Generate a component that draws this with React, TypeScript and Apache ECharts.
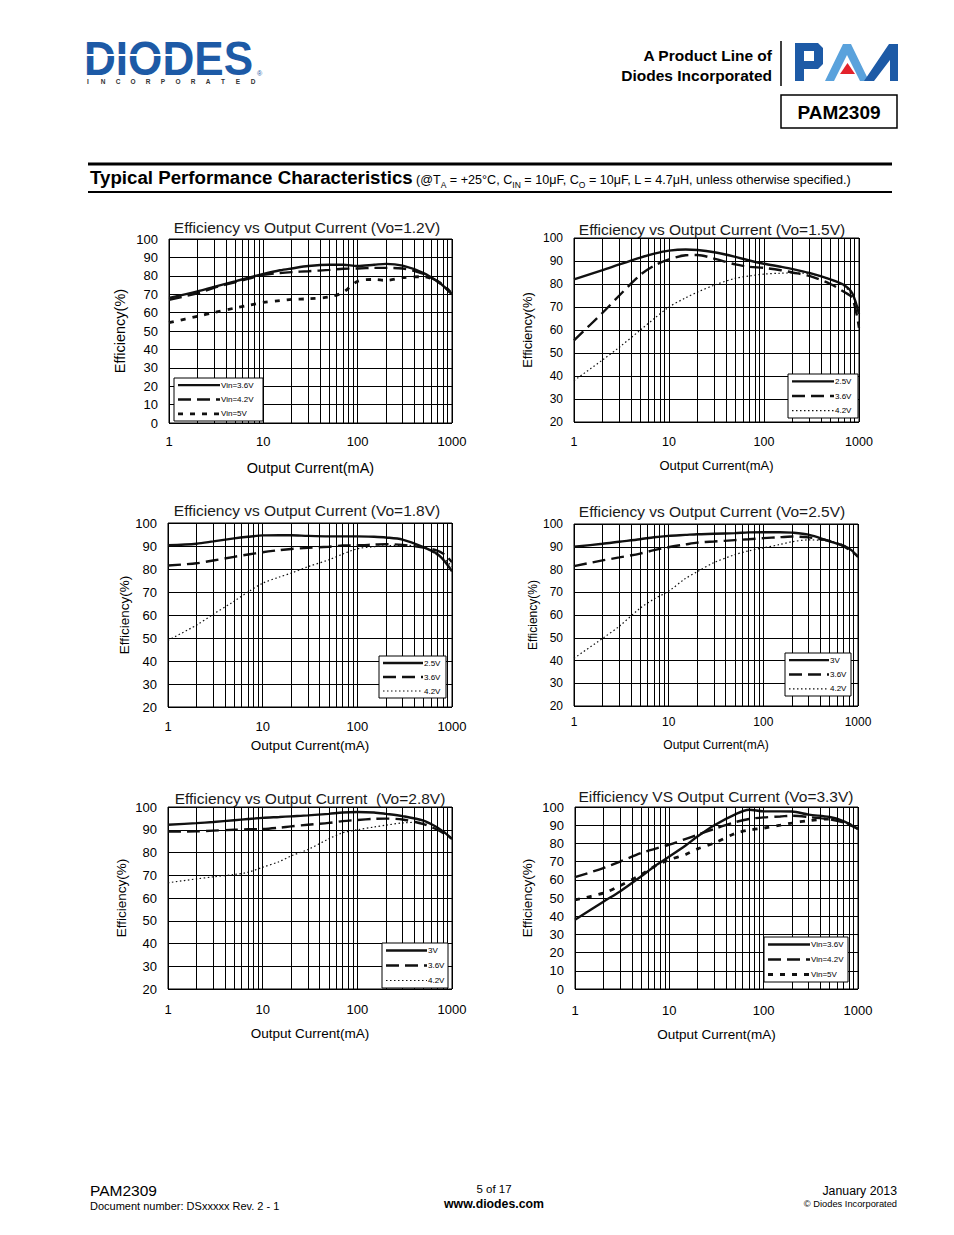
import React, { useEffect, useRef } from "react";
import * as echarts from "echarts";

// ---------- Data ----------
const CURRENT_MA = [1, 2, 3, 5, 7, 10, 15, 20, 30, 50, 70, 100, 150, 200, 300, 500, 700, 850, 1000];
const X_TICKS = [1, 10, 100, 1000];

// Vo = 1.2V
const VO12_VIN36 = [68, 71.5, 74, 77, 79, 81, 83, 84, 85.3, 86, 86, 85.3, 86, 86.5, 85.5, 81.5, 77, 73.5, 70];
const VO12_VIN42 = [67, 70.5, 73.5, 76.5, 78.5, 80.5, 81.5, 82, 82.5, 83.2, 83.8, 84, 84.3, 84.3, 84, 81, 77, 73.5, 70];
const VO12_VIN50 = [54.5, 58, 60, 62.5, 64, 65.5, 66.5, 67.2, 67.5, 68.5, 71, 77, 78, 77.5, 79, 79.5, 77, 74, 70];
// Vo = 1.5V
const VO15_VIN25 = [82, 86, 88.5, 91.5, 93.2, 94.5, 95, 94.8, 93.8, 91.8, 90.2, 88.8, 87.5, 86.5, 84.8, 82, 79.5, 76, 67];
const VO15_VIN36 = [55.5, 67.5, 75, 84, 88, 90.7, 92.5, 92.6, 91, 88.5, 87.5, 87, 86, 85, 83.5, 80, 76.5, 74, 61];
const VO15_VIN42 = [38, 47, 52.5, 60, 65, 70, 74, 76.5, 79.5, 82.5, 83.5, 84.3, 84.7, 84.8, 84.5, 82, 79, 75, 69];
// Vo = 1.8V
const VO18_VIN25 = [90.3, 91, 92, 93.3, 94, 94.6, 94.7, 94.7, 94.4, 94.2, 94.2, 94.2, 94, 93.7, 92.8, 89.5, 86.5, 83, 79];
const VO18_VIN36 = [81.5, 82.5, 83.7, 85.3, 86.3, 87.3, 88.2, 88.7, 89.2, 89.7, 90.2, 90.3, 90.6, 90.8, 90.5, 89.3, 88, 86, 83];
const VO18_VIN42 = [49, 55.6, 60.3, 66, 70, 73.8, 76.5, 78.2, 81, 84, 86.5, 88.8, 89.7, 90.1, 90.3, 89.5, 86, 84, 81];
// Vo = 2.5V
const VO25_VIN30 = [90, 91.3, 92.2, 93.3, 94.2, 94.8, 95.2, 95.5, 95.7, 96, 96.3, 96.4, 96.4, 96.2, 95.3, 92.4, 90.5, 88.5, 85.5];
const VO25_VIN36 = [81.5, 84, 85.3, 87, 88.5, 89.8, 91, 91.8, 92.3, 92.9, 93.3, 93.8, 94.2, 94.5, 94.1, 92.6, 90.3, 88, 85.7];
const VO25_VIN42 = [41, 49.7, 55, 63, 67, 70.5, 76, 79, 83, 86.5, 88.2, 89.5, 91, 92.2, 93, 92.5, 90.8, 88.5, 85.5];
// Vo = 2.8V
const VO28_VIN30 = [92.2, 92.9, 93.4, 94.2, 94.7, 95.2, 95.6, 95.9, 96.3, 97, 97.6, 97.8, 97.6, 97, 96, 94, 91, 88.5, 86];
const VO28_VIN36 = [89.2, 89.3, 89.6, 90, 90.2, 90.3, 90.9, 91.5, 92.2, 93, 93.8, 94.3, 94.8, 94.9, 94.5, 92.5, 90, 88, 86];
const VO28_VIN42 = [66.7, 68.4, 69.3, 70.3, 71.3, 73.5, 76, 78.5, 81.3, 86, 88.7, 90, 91.2, 92, 93, 93.3, 91, 88.5, 86];
// Vo = 3.3V
const VO33_VIN36 = [38, 48, 53.6, 61.8, 67.5, 72.8, 79, 83.9, 90, 96, 98.5, 97.6, 97.6, 97.5, 95.8, 94.5, 92.3, 90, 88];
const VO33_VIN42 = [61.5, 66.4, 70, 74.7, 77, 79.3, 82.5, 84.8, 88, 91.7, 93.4, 94.3, 94.8, 95.2, 94.5, 93.2, 91.5, 89.8, 88];
const VO33_VIN50 = [49, 52.7, 56.7, 62.8, 67.5, 71, 74, 77, 80.2, 85.5, 87.3, 88.4, 90, 91.2, 92.5, 93.4, 92.1, 90, 88];

// ---------- Styles / layout ----------
const FONT = '"Liberation Sans", Arial, Helvetica, sans-serif';
const INK = "#111";
const MINOR_X = [2, 3, 4, 5, 6, 7, 8, 9, 20, 30, 40, 50, 60, 70, 80, 90, 200, 300, 400, 500, 600, 700, 800, 900];

const LINE_STYLES: Record<string, { type: any; width: number }> = {
  solid: { type: "solid", width: 2.4 },
  long: { type: [13, 6], width: 2.4 },
  short: { type: [5, 7], width: 2.8 },
  dot: { type: [1.5, 2.5], width: 1.2 },
};

type Panel = {
  title: string; tx: number; ty: number; tSize: number;
  grid: { left: number; top: number; width: number; height: number };
  yMin: number; ySize: number; xSize: number; nSize: number;
  yGap: number; xGap: number; xMargin: number; yMargin: number;
  series: { name: string; data: number[]; style: string }[];
  legend: { x: number; y: number; w: number; h: number; len: number; fs: number };
};

const PANELS: Panel[] = [
  {
    title: "Efficiency vs Output Current (Vo=1.2V)", tx: 307, ty: 227, tSize: 15.5,
    grid: { left: 169, top: 239, width: 283, height: 184 },
    yMin: 0, ySize: 13, xSize: 13, nSize: 14.5, yGap: 42, xGap: 37, xMargin: 12, yMargin: 11,
    series: [
      { name: "Vin=3.6V", data: VO12_VIN36, style: "solid" },
      { name: "Vin=4.2V", data: VO12_VIN42, style: "long" },
      { name: "Vin=5V", data: VO12_VIN50, style: "short" },
    ],
    legend: { x: 174, y: 378, w: 89, h: 43, len: 42, fs: 8 },
  },
  {
    title: "Efficiency vs Output Current (Vo=1.5V)", tx: 712, ty: 229, tSize: 15.5,
    grid: { left: 574, top: 238, width: 285, height: 184 },
    yMin: 20, ySize: 12, xSize: 12.5, nSize: 13, yGap: 40, xGap: 37, xMargin: 13, yMargin: 11,
    series: [
      { name: "2.5V", data: VO15_VIN25, style: "solid" },
      { name: "3.6V", data: VO15_VIN36, style: "long" },
      { name: "4.2V", data: VO15_VIN42, style: "dot" },
    ],
    legend: { x: 788, y: 374, w: 70, h: 44, len: 42, fs: 8 },
  },
  {
    title: "Efficiency vs Output Current (Vo=1.8V)", tx: 307, ty: 510, tSize: 15.5,
    grid: { left: 168, top: 523, width: 284, height: 184 },
    yMin: 20, ySize: 13, xSize: 13, nSize: 13.5, yGap: 36, xGap: 31, xMargin: 12.5, yMargin: 11,
    series: [
      { name: "2.5V", data: VO18_VIN25, style: "solid" },
      { name: "3.6V", data: VO18_VIN36, style: "long" },
      { name: "4.2V", data: VO18_VIN42, style: "dot" },
    ],
    legend: { x: 379, y: 656, w: 67, h: 42, len: 40, fs: 8 },
  },
  {
    title: "Efficiency vs Output Current (Vo=2.5V)", tx: 712, ty: 511, tSize: 15.5,
    grid: { left: 574, top: 524, width: 284, height: 182 },
    yMin: 20, ySize: 12, xSize: 12, nSize: 12, yGap: 34, xGap: 33, xMargin: 10, yMargin: 11,
    series: [
      { name: "3V", data: VO25_VIN30, style: "solid" },
      { name: "3.6V", data: VO25_VIN36, style: "long" },
      { name: "4.2V", data: VO25_VIN42, style: "dot" },
    ],
    legend: { x: 785, y: 653, w: 66, h: 43, len: 40, fs: 8 },
  },
  {
    title: "Efficiency vs Output Current  (Vo=2.8V)", tx: 310, ty: 798, tSize: 15.5,
    grid: { left: 168, top: 807, width: 284, height: 182 },
    yMin: 20, ySize: 13, xSize: 13, nSize: 13.5, yGap: 40, xGap: 37, xMargin: 13.5, yMargin: 11,
    series: [
      { name: "3V", data: VO28_VIN30, style: "solid" },
      { name: "3.6V", data: VO28_VIN36, style: "long" },
      { name: "4.2V", data: VO28_VIN42, style: "dot" },
    ],
    legend: { x: 382, y: 943, w: 66, h: 45, len: 41, fs: 8 },
  },
  {
    title: "Eifficiency VS Output Current (Vo=3.3V)", tx: 716, ty: 796, tSize: 15.5,
    grid: { left: 575, top: 807, width: 283, height: 182 },
    yMin: 0, ySize: 13, xSize: 13, nSize: 13.5, yGap: 41, xGap: 38, xMargin: 14.5, yMargin: 11,
    series: [
      { name: "Vin=3.6V", data: VO33_VIN36, style: "solid" },
      { name: "Vin=4.2V", data: VO33_VIN42, style: "long" },
      { name: "Vin=5V", data: VO33_VIN50, style: "short" },
    ],
    legend: { x: 764, y: 937, w: 84, h: 45, len: 42, fs: 8 },
  },
];

function buildHeaderFooter(): any[] {
  const els: any[] = [];
  const blue = "#1d5aa6";
  // DIODES logo
  els.push({
    type: "text", x: 84, y: 58, scaleX: 0.9,
    style: { text: "DIODES", fontFamily: FONT, fontWeight: 900, fontSize: 49, lineHeight: 34, fill: blue, align: "left", verticalAlign: "middle" },
  });
  els.push({ type: "rect", shape: { x: 84, y: 54, width: 92, height: 2 }, style: { fill: "#fff" } });
  els.push({
    type: "text", x: 257, y: 73,
    style: { text: "®", fontFamily: FONT, fontSize: 7, lineHeight: 7, fill: blue, align: "left", verticalAlign: "middle" },
  });
  "INCORPORATED".split("").forEach((ch, i) => {
    els.push({
      type: "text", x: 88 + i * 15, y: 81.5,
      style: { text: ch, fontFamily: FONT, fontWeight: "bold", fontSize: 6.5, lineHeight: 7, fill: "#333", align: "center", verticalAlign: "middle" },
    });
  });
  // right header
  els.push({ type: "text", x: 772, y: 55, style: { text: "A Product Line of", fontFamily: FONT, fontWeight: "bold", fontSize: 15.5, fill: "#000", align: "right", verticalAlign: "middle" } });
  els.push({ type: "text", x: 772, y: 75, style: { text: "Diodes Incorporated", fontFamily: FONT, fontWeight: "bold", fontSize: 15.5, fill: "#000", align: "right", verticalAlign: "middle" } });
  els.push({ type: "line", shape: { x1: 781, y1: 41, x2: 781, y2: 86 }, style: { stroke: "#000", lineWidth: 1.5 } });
  // PAM logo
  els.push({ type: "polygon", shape: { points: [[795, 43], [818, 43], [823, 48], [823, 64], [818, 69], [804, 69], [804, 81], [795, 81]] }, style: { fill: blue } });
  els.push({ type: "rect", shape: { x: 804, y: 51, width: 10, height: 10 }, style: { fill: "#fff" } });
  els.push({ type: "polygon", shape: { points: [[825, 81], [843, 44], [851, 44], [869, 81], [860, 81], [847, 55], [834, 81]] }, style: { fill: "#5aa2dc" } });
  els.push({ type: "polygon", shape: { points: [[840, 74], [847.5, 63], [855, 74]] }, style: { fill: "#e3222b" } });
  els.push({ type: "polygon", shape: { points: [[864, 81], [889, 44], [898, 44], [898, 81], [890, 81], [890, 60], [874, 81]] }, style: { fill: blue } });
  // PAM2309 box
  els.push({ type: "rect", shape: { x: 781, y: 95, width: 116, height: 33 }, style: { fill: "none", stroke: "#000", lineWidth: 1.5 } });
  els.push({ type: "text", x: 839, y: 112, style: { text: "PAM2309", fontFamily: FONT, fontWeight: "bold", fontSize: 19, fill: "#000", align: "center", verticalAlign: "middle" } });
  // Section title rules
  els.push({ type: "line", shape: { x1: 88, y1: 164, x2: 892, y2: 164 }, style: { stroke: "#000", lineWidth: 3 } });
  els.push({ type: "line", shape: { x1: 88, y1: 192, x2: 892, y2: 192 }, style: { stroke: "#000", lineWidth: 2 } });
  els.push({
    type: "text", x: 90, y: 189,
    style: {
      text: "{t|Typical Performance Characteristics} {n|(@T}{s|A}{n| = +25°C, C}{s|IN}{n| = 10μF, C}{s|O}{n| = 10μF, L = 4.7μH, unless otherwise specified.)}",
      align: "left", verticalAlign: "bottom",
      rich: {
        t: { fontFamily: FONT, fontWeight: "bold", fontSize: 18.7, fill: "#000", lineHeight: 21, verticalAlign: "bottom", padding: [0, 0, 2, 0] },
        n: { fontFamily: FONT, fontSize: 12.6, fill: "#000", lineHeight: 14, verticalAlign: "bottom", padding: [0, 0, 3, 0] },
        s: { fontFamily: FONT, fontSize: 8.5, fill: "#000", lineHeight: 9, verticalAlign: "bottom" },
      },
    },
  });
  // Footer
  els.push({ type: "text", x: 90, y: 1190, style: { text: "PAM2309", fontFamily: FONT, fontSize: 15.5, lineHeight: 16, fill: "#000", align: "left", verticalAlign: "middle" } });
  els.push({ type: "text", x: 90, y: 1206, style: { text: "Document number: DSxxxxx Rev. 2 - 1", fontFamily: FONT, fontSize: 11, lineHeight: 12, fill: "#000", align: "left", verticalAlign: "middle" } });
  els.push({ type: "text", x: 494, y: 1189, style: { text: "5 of 17", fontFamily: FONT, fontSize: 11.5, lineHeight: 12, fill: "#000", align: "center", verticalAlign: "middle" } });
  els.push({ type: "text", x: 494, y: 1204, style: { text: "www.diodes.com", fontFamily: FONT, fontWeight: "bold", fontSize: 12.3, lineHeight: 13, fill: "#000", align: "center", verticalAlign: "middle" } });
  els.push({ type: "text", x: 897, y: 1191, style: { text: "January 2013", fontFamily: FONT, fontSize: 12.3, lineHeight: 13, fill: "#000", align: "right", verticalAlign: "middle" } });
  els.push({ type: "text", x: 897, y: 1204, style: { text: "© Diodes Incorporated", fontFamily: FONT, fontSize: 9.3, lineHeight: 10, fill: "#000", align: "right", verticalAlign: "middle" } });
  return els;
}

function buildPanelGraphics(p: Panel): any[] {
  const els: any[] = [];
  els.push({
    type: "text", x: p.tx, y: p.ty,
    style: { text: p.title, fontFamily: FONT, fontSize: p.tSize, fill: "#1a1a1a", align: "center", verticalAlign: "middle" },
  });
  const L = p.legend;
  els.push({ type: "rect", z: 10, shape: { x: L.x, y: L.y, width: L.w, height: L.h }, style: { fill: "#fff", stroke: "#000", lineWidth: 1 } });
  p.series.forEach((s, i) => {
    const yy = L.y + (L.h * (2 * i + 1)) / 6;
    const ls = LINE_STYLES[s.style];
    els.push({
      type: "line", z: 11,
      shape: { x1: L.x + 4, y1: yy, x2: L.x + 4 + L.len, y2: yy },
      style: { stroke: INK, lineWidth: ls.width, lineDash: Array.isArray(ls.type) ? ls.type : null },
    });
    els.push({
      type: "text", z: 11, x: L.x + 5 + L.len, y: yy,
      style: { text: s.name, fontFamily: FONT, fontSize: L.fs, lineHeight: 9, fill: "#000", align: "left", verticalAlign: "middle" },
    });
  });
  return els;
}

function buildOption() {
  const grid: any[] = [];
  const xAxis: any[] = [];
  const yAxis: any[] = [];
  const series: any[] = [];
  let graphics: any[] = buildHeaderFooter();

  PANELS.forEach((p, i) => {
    grid.push({ ...p.grid, show: true, borderColor: "#000", borderWidth: 1, backgroundColor: "transparent" });
    xAxis.push({
      gridIndex: i, type: "log", logBase: 10, min: X_TICKS[0], max: X_TICKS[X_TICKS.length - 1],
      axisLine: { show: false }, axisTick: { show: false },
      splitLine: { show: true, lineStyle: { color: "#000", width: 1 } },
      axisLabel: { color: "#000", fontSize: p.xSize, fontFamily: FONT, margin: p.xMargin, formatter: (v: number) => String(Math.round(v)) },
      name: "Output Current(mA)", nameLocation: "middle", nameGap: p.xGap,
      nameTextStyle: { color: "#000", fontSize: p.nSize, fontFamily: FONT },
    });
    yAxis.push({
      gridIndex: i, type: "value", min: p.yMin, max: 100, interval: 10,
      axisLine: { show: false }, axisTick: { show: false },
      splitLine: { show: true, lineStyle: { color: "#000", width: 1 } },
      axisLabel: { color: "#000", fontSize: p.ySize, fontFamily: FONT, margin: p.yMargin },
      name: "Efficiency(%)", nameLocation: "middle", nameGap: p.yGap,
      nameTextStyle: { color: "#000", fontSize: p.nSize, fontFamily: FONT },
    });
    series.push({
      type: "line", xAxisIndex: i, yAxisIndex: i, data: [], silent: true, z: 1,
      markLine: {
        silent: true, symbol: ["none", "none"], label: { show: false },
        lineStyle: { color: "#000", width: 1, type: "solid" },
        emphasis: { disabled: true },
        data: MINOR_X.map((v) => ({ xAxis: v })),
      },
    });
    p.series.forEach((s) => {
      const ls = LINE_STYLES[s.style];
      series.push({
        type: "line", name: s.name, xAxisIndex: i, yAxisIndex: i, silent: true, z: 3,
        symbol: "none", smooth: 0.3,
        data: CURRENT_MA.map((c, k) => [c, s.data[k]]),
        lineStyle: { color: INK, width: ls.width, type: ls.type },
      });
    });
    graphics = graphics.concat(buildPanelGraphics(p));
  });

  return {
    animation: false,
    backgroundColor: "#fff",
    grid, xAxis, yAxis, series,
    graphic: { elements: graphics },
  };
}

export default function App() {
  const ref = useRef<HTMLDivElement>(null);
  useEffect(() => {
    if (!ref.current) return;
    const chart = echarts.init(ref.current, undefined, { renderer: "svg" });
    chart.setOption(buildOption() as any);
    return () => chart.dispose();
  }, []);
  return <div ref={ref} style={{ position: "absolute", left: 0, top: 0, width: 954, height: 1235, background: "#fff" }} />;
}
